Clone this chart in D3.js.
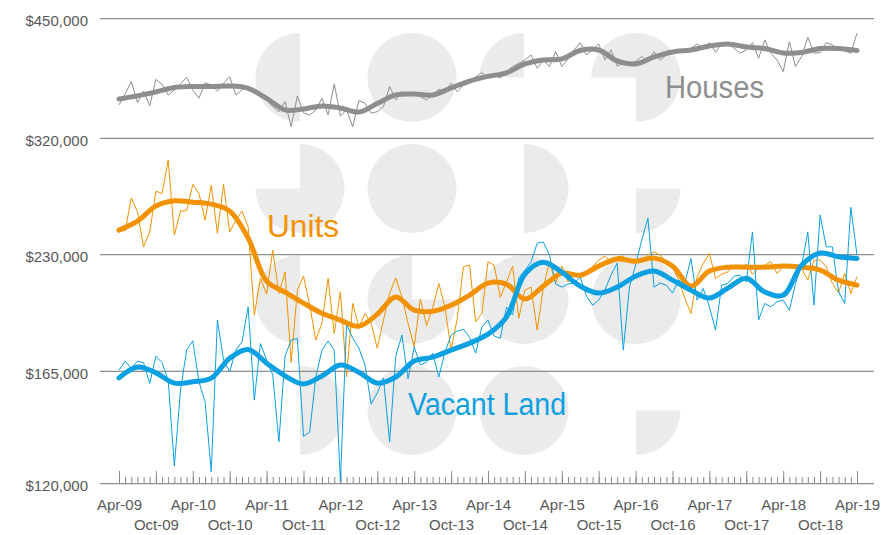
<!DOCTYPE html>
<html>
<head>
<meta charset="utf-8">
<script src="https://cdn.jsdelivr.net/npm/d3@7"></script>
<style>
  body { margin: 0; background: #fff; }
  svg { display: block; font-family: "Liberation Sans", Arial, sans-serif; }
</style>
</head>
<body>
<svg id="chart" width="889" height="535"></svg>
<script>
// median prices in $000s, one value per month, Apr-09 .. Apr-19
var housesRaw = [
  351.5, 362.6, 375.5, 353.8, 365.7, 350.5, 378.0, 372.7, 361.3, 366.8,
  373.1, 380.2, 366.8, 358.2, 374.3, 372.0, 365.7, 373.9, 380.9, 361.6,
  366.8, 370.3, 366.8, 359.9, 356.5, 349.8, 344.8, 354.8, 330.4, 360.6,
  343.6, 341.6, 346.5, 358.2, 341.6, 373.1, 340.7, 346.5, 330.4, 355.8,
  353.2, 343.3, 344.8, 349.8, 370.3, 356.5, 365.0, 361.6, 365.0, 359.9,
  356.5, 361.6, 367.5, 365.0, 373.9, 365.0, 372.0, 373.9, 380.9, 385.3,
  379.5, 382.7, 379.5, 386.4, 391.9, 395.7, 399.4, 405.1, 390.0, 399.4,
  391.9, 409.0, 391.9, 400.2, 410.9, 419.6, 405.1, 410.9, 418.0, 399.4,
  410.9, 392.7, 395.7, 395.7, 397.6, 403.3, 398.3, 409.0, 399.4, 405.1,
  407.9, 410.1, 410.3, 412.8, 418.0, 411.7, 419.6, 408.3, 418.0, 419.6,
  412.8, 407.1, 410.9, 419.6, 401.3, 422.8, 407.1, 399.4, 386.4, 420.8,
  391.9, 403.3, 426.0, 407.1, 407.9, 419.6, 416.8, 410.9, 410.1, 407.1,
  431.0
];
var unitsRaw = [
  246.2, 245.7, 269.9, 259.4, 234.8, 245.0, 275.1, 273.3, 300.4, 242.8,
  260.1, 260.1, 280.4, 273.3, 253.3, 279.8, 244.0, 280.4, 245.0, 253.3,
  259.9, 248.5, 193.4, 214.6, 205.3, 232.6, 205.7, 218.7, 169.1, 207.6,
  216.1, 199.0, 180.1, 188.9, 214.6, 183.6, 206.6, 162.3, 199.9, 187.0,
  194.3, 188.9, 176.0, 190.7, 205.7, 215.0, 203.7, 188.9, 176.8, 202.4,
  187.9, 197.2, 211.6, 198.0, 175.1, 191.6, 221.9, 222.9, 189.8, 194.3,
  225.0, 222.9, 203.5, 212.4, 222.3, 191.7, 207.6, 209.4, 185.3, 209.4,
  224.8, 211.8, 222.3, 212.4, 218.5, 214.8, 218.5, 221.9, 226.1, 228.7,
  225.0, 228.2, 228.7, 225.0, 226.1, 225.0, 229.3, 231.5, 229.3, 225.0,
  221.9, 213.6, 203.0, 194.3, 215.6, 224.0, 230.5, 214.6, 217.3, 218.7,
  222.9, 220.8, 223.5, 217.3, 220.8, 222.9, 225.0, 217.7, 221.9, 222.9,
  221.9, 220.8, 213.6, 226.1, 226.1, 221.9, 211.6, 206.0, 217.7, 205.7,
  215.6
];
var landRaw = [
  165.4, 169.7, 166.2, 169.7, 168.9, 159.3, 172.1, 168.9, 160.8, 125.9,
  156.3, 175.1, 179.8, 160.0, 151.1, 123.9, 190.7, 170.2, 164.6, 175.1,
  179.2, 198.0, 151.9, 178.4, 170.2, 163.1, 134.9, 172.1, 180.1, 181.0,
  137.0, 138.7, 162.2, 175.1, 179.6, 175.1, 120.6, 188.5, 181.1, 176.1,
  167.8, 150.2, 155.0, 161.7, 134.8, 172.1, 182.7, 161.3, 176.6, 167.8,
  169.2, 173.6, 162.2, 174.1, 182.7, 184.8, 185.8, 181.6, 173.6, 186.9,
  190.7, 182.2, 181.1, 197.8, 193.4, 214.8, 219.8, 224.8, 237.3, 238.0,
  229.3, 211.2, 209.4, 211.2, 211.8, 215.4, 204.2, 198.9, 201.8, 207.6,
  216.7, 224.2, 175.1, 209.4, 222.9, 239.3, 254.8, 209.4, 211.8, 210.6,
  205.9, 213.6, 211.6, 227.2, 201.8, 208.6, 198.0, 185.3, 210.6, 211.6,
  216.0, 216.7, 212.6, 245.0, 190.7, 199.9, 198.0, 200.9, 201.8, 196.1,
  211.6, 222.9, 245.0, 199.0, 257.0, 234.8, 234.8, 206.6, 199.9, 262.8,
  229.3
];

// trend lines in $000s, one value per quarter (every third month)
var housesTrend = [
  357.5, 360.6, 364.7, 369.3, 370.4, 370.4, 370.9, 368.5, 358.0, 346.5,
  347.5, 350.5, 348.5, 344.5, 352.9, 361.6, 362.6, 361.6, 368.8, 376.2,
  381.2, 385.0, 394.9, 399.4, 400.6, 410.3, 410.9, 398.3, 394.9, 402.8,
  408.6, 410.9, 415.6, 418.0, 414.4, 412.6, 407.5, 408.0, 412.6, 412.6,
  410.3
];
var unitsTrend = [
  246.2, 252.6, 263.6, 267.6, 266.6, 265.1, 259.9, 240.7, 213.0, 206.4,
  200.1, 194.4, 190.7, 187.4, 193.9, 203.6, 196.1, 195.5, 198.9, 204.7,
  211.8, 211.2, 202.4, 210.0, 217.9, 216.6, 222.3, 226.8, 225.4, 227.4,
  222.3, 210.0, 219.2, 221.6, 221.6, 221.6, 222.3, 221.6, 219.8, 213.6,
  210.6
];
var landTrend = [
  161.8, 166.9, 164.1, 159.4, 160.0, 161.7, 171.1, 175.4, 168.7, 162.7,
  159.0, 162.7, 167.8, 164.4, 159.4, 162.2, 169.7, 171.6, 175.1, 178.6,
  183.2, 192.3, 217.3, 224.8, 218.5, 210.0, 205.9, 209.4, 216.0, 219.2,
  213.6, 207.6, 203.0, 208.8, 214.8, 206.5, 204.7, 222.9, 230.7, 228.3,
  227.2
];

var yTicks = [120, 165, 230, 320, 450];
var tickLabels = [
  'Apr-09', 'Oct-09', 'Apr-10', 'Oct-10', 'Apr-11', 'Oct-11', 'Apr-12',
  'Oct-12', 'Apr-13', 'Oct-13', 'Apr-14', 'Oct-14', 'Apr-15', 'Oct-15',
  'Apr-16', 'Oct-16', 'Apr-17', 'Oct-17', 'Apr-18', 'Oct-18', 'Apr-19'
];

// background logo: quarter spans (0 = top right, clockwise) for each cell of a 4x4 grid
var logoCells = [
  [[2, 4], [0, 4], [3, 4], [-1, 2]],
  [[0, 3], [0, 4], [0, 2], [1, 2]],
  [[2, 4], [1, 4], [0, 4], [0, 4]],
  [[0, 2], [0, 4], [0, 4], [1, 2]]
];

var grey = '#8e8e8e', orange = '#f39200', blue = '#0aa0e2';

var svg = d3.select('#chart');

var x = d3.scaleLinear().domain([0, 120]).range([119, 857]);
var y = d3.scaleLog().domain([120, 450]).range([483, 18]);

// logo watermark
var arc = d3.arc().innerRadius(0).outerRadius(44.5);
var logo = svg.append('g').attr('class', 'logo');
logoCells.forEach(function(row, r) {
  row.forEach(function(span, c) {
    logo.append('path')
      .attr('transform', 'translate(' + (300 + c * 112) + ',' + (77.5 + r * 111) + ')')
      .attr('d', arc({startAngle: span[0] * Math.PI / 2, endAngle: span[1] * Math.PI / 2}))
      .attr('fill', '#ebebeb');
  });
});

// y axis + gridlines
var yAxis = d3.axisLeft(y)
    .tickValues(yTicks)
    .tickSize(-774)
    .tickPadding(12)
    .tickFormat(function(d) { return d3.format('$,')(d * 1000); });

var yG = svg.append('g').attr('class', 'y axis')
    .attr('transform', 'translate(100,0)')
    .call(yAxis);
yG.select('.domain').remove();
yG.selectAll('line').attr('stroke', '#8f8f8f').attr('stroke-width', 1.25);
yG.selectAll('text')
    .attr('fill', '#595959')
    .attr('font-size', 15)
    .attr('font-family', '"Liberation Sans", Arial, sans-serif')
    .attr('dy', '0.5em');

// x axis: a tick every month, longer ones every six months
var minorG = svg.append('g').attr('class', 'x axis minor')
    .attr('transform', 'translate(0,483)')
    .call(d3.axisBottom(x).tickValues(d3.range(0, 121)).tickSize(-6).tickFormat(''));
minorG.select('.domain').remove();

var majorG = svg.append('g').attr('class', 'x axis major')
    .attr('transform', 'translate(0,483)')
    .call(d3.axisBottom(x).tickValues(d3.range(0, 121, 6)).tickSize(-12)
      .tickFormat(function(d, i) { return tickLabels[i]; }));
majorG.select('.domain').remove();
svg.selectAll('.x.axis line').attr('stroke', '#8a8a8a').attr('stroke-width', 1);
majorG.selectAll('text')
    .attr('fill', '#595959')
    .attr('font-size', 15)
    .attr('font-family', '"Liberation Sans", Arial, sans-serif')
    .attr('dy', 0)
    .attr('y', function(d, i) { return i % 2 ? 46.5 : 27; });

// series
var rawLine = d3.line()
    .x(function(d, i) { return x(i); })
    .y(function(d) { return y(d); });

var trendLine = d3.line()
    .x(function(d, i) { return x(i * 3); })
    .y(function(d) { return y(d); })
    .curve(d3.curveCatmullRom.alpha(0.5));

function drawRaw(data, colour) {
  svg.append('path').datum(data)
    .attr('class', 'raw')
    .attr('d', rawLine)
    .attr('fill', 'none')
    .attr('stroke', colour)
    .attr('stroke-width', 1);
}

function drawTrend(data, colour) {
  svg.append('path').datum(data)
    .attr('class', 'trend')
    .attr('d', trendLine)
    .attr('fill', 'none')
    .attr('stroke', colour)
    .attr('stroke-width', 5)
    .attr('stroke-linecap', 'round')
    .attr('stroke-linejoin', 'round');
}

drawRaw(housesRaw, grey);
drawTrend(housesTrend, grey);
drawRaw(unitsRaw, orange);
drawRaw(landRaw, blue);
drawTrend(unitsTrend, orange);
drawTrend(landTrend, blue);

// series labels
var labels = [
  {text: 'Houses', x: 665, y: 98, w: 99, colour: grey},
  {text: 'Units', x: 267, y: 237, w: 72, colour: orange},
  {text: 'Vacant Land', x: 408, y: 415, w: 158, colour: blue}
];
svg.selectAll('text.series-label')
    .data(labels)
    .enter().append('text')
    .attr('class', 'series-label')
    .attr('x', function(d) { return d.x; })
    .attr('y', function(d) { return d.y; })
    .attr('textLength', function(d) { return d.w; })
    .attr('lengthAdjust', 'spacingAndGlyphs')
    .attr('font-size', 31)
    .attr('fill', function(d) { return d.colour; })
    .text(function(d) { return d.text; });
</script>
</body>
</html>
